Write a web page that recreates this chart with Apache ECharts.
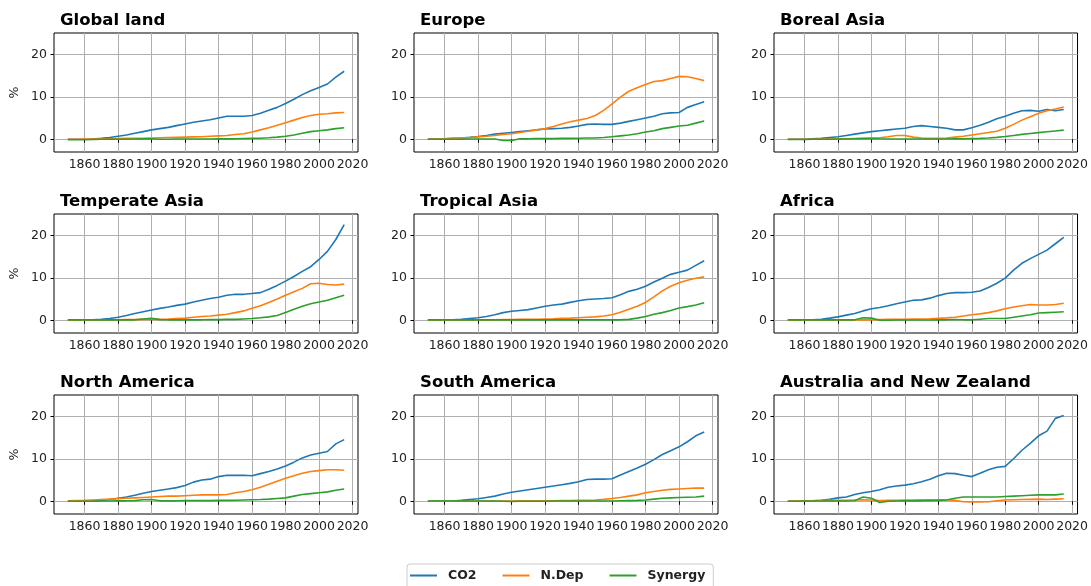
<!DOCTYPE html>
<html>
<head>
<meta charset="utf-8">
<script src="https://cdn.jsdelivr.net/npm/echarts@6/dist/echarts.min.js"></script>
<style>
  html, body { margin: 0; padding: 0; background: #fff; }
  #chart { width: 1091px; height: 586px; }
</style>
</head>
<body>
<div id="chart"></div>
<script>
// years sampled every 5 years, 1850-2015
const years = [1850, 1855, 1860, 1865, 1870, 1875, 1880, 1885, 1890, 1895,
  1900, 1905, 1910, 1915, 1920, 1925, 1930, 1935, 1940, 1945,
  1950, 1955, 1960, 1965, 1970, 1975, 1980, 1985, 1990, 1995,
  2000, 2005, 2010, 2015];

const regions = ["Global land", "Europe", "Boreal Asia",
  "Temperate Asia", "Tropical Asia", "Africa",
  "North America", "South America", "Australia and New Zealand"];

const xTicks = [1860, 1880, 1900, 1920, 1940, 1960, 1980, 2000, 2020];
const yTicks = [0, 10, 20];

// one row per region, same order as regions
const co2 = [
  [0,0,0,0.05,0.2,0.4,0.7,1.0,1.4,1.8, 2.2,2.5,2.8,3.2,3.6,4.0,4.3,4.6,5.0,5.4, 5.4,5.4,5.6,6.1,6.8,7.5,8.4,9.4,10.5,11.4, 12.2,13.0,14.6,16.0],
  [0,0.05,0.1,0.2,0.3,0.45,0.65,0.9,1.2,1.4, 1.6,1.8,2.0,2.2,2.4,2.5,2.6,2.8,3.1,3.5, 3.6,3.5,3.5,3.8,4.2,4.6,5.0,5.4,6.0,6.2, 6.3,7.5,8.2,8.8],
  [0,0,0,0.1,0.2,0.4,0.6,0.9,1.2,1.5, 1.8,2.0,2.2,2.4,2.6,3.0,3.2,3.0,2.8,2.6, 2.2,2.2,2.7,3.3,4.0,4.8,5.4,6.1,6.7,6.8, 6.6,7.0,6.7,7.0],
  [0,0,0,0.1,0.2,0.4,0.7,1.1,1.6,2.0, 2.4,2.8,3.1,3.5,3.8,4.3,4.7,5.1,5.4,5.9, 6.1,6.1,6.3,6.5,7.3,8.2,9.2,10.3,11.5,12.6, 14.3,16.2,19.0,22.5],
  [0,0,0,0.1,0.2,0.4,0.6,0.9,1.3,1.8, 2.1,2.3,2.5,2.9,3.3,3.6,3.8,4.2,4.6,4.9, 5.0,5.1,5.3,6.0,6.8,7.3,8.0,9.0,9.9,10.8, 11.3,11.8,12.9,14.0],
  [0,0,0,0.1,0.25,0.5,0.8,1.2,1.6,2.2, 2.7,3.0,3.4,3.9,4.3,4.7,4.8,5.2,5.8,6.3, 6.5,6.5,6.6,6.9,7.7,8.7,9.9,11.8,13.4,14.5, 15.5,16.5,18.0,19.5],
  [0,0,0,0.1,0.2,0.4,0.7,1.0,1.4,1.9, 2.3,2.6,2.9,3.2,3.7,4.5,5.0,5.2,5.8,6.1, 6.1,6.1,6.0,6.5,7.0,7.6,8.3,9.2,10.2,10.9, 11.3,11.7,13.5,14.5],
  [0,0,0,0.05,0.2,0.4,0.6,0.9,1.2,1.7, 2.1,2.4,2.7,3.0,3.3,3.6,3.9,4.2,4.6,5.1, 5.2,5.2,5.3,6.2,7.0,7.8,8.7,9.8,11.0,11.9, 12.8,14.0,15.4,16.3],
  [0,0,0,0.1,0.25,0.45,0.8,1.0,1.6,2.0, 2.3,2.7,3.3,3.6,3.8,4.1,4.6,5.2,6.0,6.6, 6.5,6.1,5.8,6.6,7.4,8.0,8.2,10.0,12.0,13.6, 15.4,16.5,19.5,20.2]
];

const ndep = [
  [0,0,0.05,0.05,0.1,0.1,0.15,0.2,0.2,0.25, 0.3,0.35,0.4,0.45,0.5,0.55,0.6,0.7,0.8,0.9, 1.1,1.3,1.7,2.2,2.7,3.3,3.9,4.5,5.1,5.6, 5.9,6.0,6.2,6.3],
  [0,0.05,0.1,0.2,0.3,0.4,0.55,0.7,0.9,1.1, 1.3,1.6,1.9,2.2,2.5,3.0,3.6,4.1,4.5,4.9, 5.6,6.8,8.3,9.9,11.3,12.1,12.9,13.6,13.8,14.3, 14.8,14.7,14.3,13.8],
  [0,0,0,0,0.05,0.05,0.1,0.1,0.15,0.2, 0.2,0.35,0.6,0.9,0.9,0.5,0.3,0.2,0.25,0.3, 0.5,0.7,1.0,1.3,1.6,1.9,2.6,3.5,4.5,5.3, 6.1,6.7,7.1,7.6],
  [0,0,0,0.05,0.05,0.1,0.1,0.15,0.15,0.2, 0.2,0.25,0.3,0.4,0.5,0.7,0.9,1.0,1.2,1.4, 1.8,2.2,2.8,3.4,4.2,5.0,5.9,6.7,7.5,8.6, 8.7,8.4,8.3,8.5],
  [0,0,0,0,0.05,0.05,0.1,0.1,0.1,0.15, 0.15,0.2,0.2,0.25,0.3,0.35,0.45,0.5,0.6,0.7, 0.8,1.0,1.3,1.9,2.6,3.3,4.2,5.5,6.9,8.0, 8.8,9.4,9.9,10.2],
  [0,0,0,0,0.05,0.05,0.05,0.05,0.05,0.1, 0.1,0.15,0.2,0.2,0.25,0.3,0.3,0.35,0.45,0.55, 0.7,1.0,1.3,1.5,1.8,2.2,2.7,3.1,3.4,3.7, 3.6,3.6,3.7,4.0],
  [0.1,0.15,0.2,0.3,0.4,0.5,0.6,0.7,0.8,0.9, 1.0,1.1,1.2,1.2,1.3,1.4,1.5,1.5,1.5,1.6, 2.0,2.3,2.7,3.3,4.0,4.7,5.4,6.0,6.6,7.0, 7.2,7.4,7.4,7.3],
  [0,0,0,0,0,0,0.05,0.05,0.05,0.05, 0.05,0.1,0.1,0.1,0.1,0.1,0.15,0.15,0.2,0.25, 0.3,0.45,0.65,0.9,1.2,1.5,2.0,2.3,2.6,2.8, 2.9,3.0,3.1,3.1],
  [0,0.05,0.1,0.1,0.15,0.2,0.2,0.25,0.3,0.35, 0.3,0.15,0.2,0.25,0.3,0.3,0.35,0.35,0.35,0.35, 0.2,-0.1,-0.15,-0.15,-0.1,0.1,0.3,0.35,0.4,0.45, 0.5,0.4,0.5,0.6]
];

const synergy = [
  [-0.1,-0.1,-0.1,-0.05,0,0,0,0,0.05,0.1, 0.1,0,0,0.05,0.05,0.05,0.05,0.05,0.1,0.1, 0.1,0.15,0.2,0.25,0.35,0.5,0.7,1.0,1.4,1.8, 2.0,2.2,2.5,2.7],
  [0,0,0,0,0,0.05,0.05,0.05,0.05,-0.3, -0.3,0.1,0.1,0.15,0.15,0.15,0.2,0.2,0.25,0.3, 0.3,0.4,0.6,0.8,1.0,1.3,1.7,2.0,2.5,2.8, 3.1,3.3,3.8,4.3],
  [-0.05,-0.05,-0.05,0,0,0,0.05,0.05,0.1,0.15, 0.2,0.1,0.05,0.05,0.05,0.05,0.05,0.05,0.05,0.05, 0.1,0.1,0.15,0.2,0.3,0.45,0.65,0.9,1.15,1.35, 1.55,1.75,1.95,2.15],
  [0.1,0.1,0.1,0.1,0.1,0.1,0.1,0.1,0.1,0.3, 0.45,0.15,0.1,0.1,0.1,0.1,0.1,0.15,0.15,0.2, 0.2,0.3,0.4,0.6,0.8,1.1,1.8,2.6,3.3,3.9, 4.3,4.7,5.3,5.9],
  [0.1,0.1,0.1,0.1,0.1,0.1,0.1,0.1,0.1,0.1, 0.1,0.1,0.1,0.1,0.1,0.1,0.1,0.1,0.1,0.1, 0.1,0.1,0.1,0.1,0.2,0.5,0.9,1.4,1.8,2.3, 2.9,3.2,3.6,4.1],
  [0.1,0.1,0.1,0.1,0.1,0.1,0.1,0.1,0.1,0.6, 0.5,0,0,0.05,0.05,0.05,0.05,0.05,0.1,0.1, 0.15,0.1,0.1,0.25,0.4,0.4,0.4,0.7,1.0,1.3, 1.7,1.8,1.9,2.0],
  [0,0,0,0,0.05,0.05,0.1,0.1,0.15,0.35, 0.4,0.1,0.1,0.1,0.15,0.15,0.15,0.15,0.2,0.2, 0.25,0.3,0.35,0.4,0.5,0.65,0.8,1.2,1.6,1.8, 2.0,2.2,2.6,2.9],
  [0.05,0.05,0.05,0.05,0.05,0.05,0.05,0.05,0.05,0, -0.05,0,0,0,0,0.05,0.05,0.05,0.05,0.05, 0.05,0.05,0.05,0.1,0.15,0.2,0.3,0.5,0.7,0.8, 0.9,0.95,1.0,1.2],
  [0,0,0.05,0.05,0.05,0.05,0.05,0.05,0.1,1.0, 0.7,-0.3,0,0.05,0.1,0.1,0.1,0.15,0.2,0.3, 0.7,1.0,1.0,1.0,1.0,1.0,1.1,1.2,1.3,1.4, 1.5,1.5,1.5,1.7]
];

const seriesNames = ["CO2", "N.Dep", "Synergy"];
const colors = ["#1f77b4", "#ff7f0e", "#2ca02c"];

const font = "DejaVu Sans";
const colLeft = [54, 414, 774];
const rowTop = [33, 214, 395];
const plotW = 304;
const plotH = 119;

const grids = [], xAxes = [], yAxes = [], titles = [], series = [];

regions.forEach((name, i) => {
  const left = colLeft[i % 3];
  const top = rowTop[Math.floor(i / 3)];
  grids.push({
    left: left, top: top, width: plotW, height: plotH,
    show: true, borderColor: "#000", borderWidth: 1, backgroundColor: "#fff"
  });
  titles.push({
    text: name, left: left + 6, top: top - 21, padding: 0,
    textStyle: { fontFamily: font, fontWeight: "bold", fontSize: 16.5, color: "#000" }
  });
  xAxes.push({
    type: "value", gridIndex: i, min: 1841.75, max: 2023.25,
    axisLine: { show: false },
    axisTick: { show: true, length: 3.5, customValues: xTicks, lineStyle: { color: "#000" } },
    axisLabel: {
      customValues: xTicks, interval: 0, hideOverlap: false, showMinLabel: true, showMaxLabel: true,
      margin: 6, fontFamily: font, fontSize: 12.5, color: "#222",
      formatter: (v) => String(v)
    },
    splitLine: { show: true, lineStyle: { color: "#b0b0b0", width: 1 } }
  });
  yAxes.push({
    type: "value", gridIndex: i, min: -3, max: 25,
    name: i % 3 === 0 ? "%" : "",
    nameLocation: "middle", nameGap: 33, nameRotate: 90,
    nameTextStyle: { fontFamily: font, fontSize: 12.5, color: "#222" },
    axisLine: { show: false },
    axisTick: { show: true, length: 3.5, customValues: yTicks, lineStyle: { color: "#000" } },
    axisLabel: { customValues: yTicks, margin: 7, fontFamily: font, fontSize: 12.5, color: "#222" },
    splitLine: { show: true, lineStyle: { color: "#b0b0b0", width: 1 } }
  });
  [co2[i], ndep[i], synergy[i]].forEach((vals, k) => {
    series.push({
      name: seriesNames[k], type: "line", xAxisIndex: i, yAxisIndex: i,
      showSymbol: false, smooth: false,
      data: years.map((y, j) => [y, vals[j]]),
      lineStyle: { width: 1.6, color: colors[k] },
      itemStyle: { color: colors[k] }
    });
  });
});

const chart = echarts.init(document.getElementById("chart"));
chart.setOption({
  animation: false,
  backgroundColor: "#fff",
  title: titles,
  grid: grids,
  xAxis: xAxes,
  yAxis: yAxes,
  legend: {
    data: seriesNames,
    left: 407, top: 564,
    icon: "rect", itemWidth: 27, itemHeight: 2, itemGap: 26,
    padding: [5, 8, 8, 3], borderColor: "#ccc", borderWidth: 1, borderRadius: 3,
    textStyle: { fontFamily: font, fontWeight: "bold", fontSize: 12.5, color: "#222", padding: [0, 0, 0, 6] }
  },
  series: series
});
</script>
</body>
</html>
